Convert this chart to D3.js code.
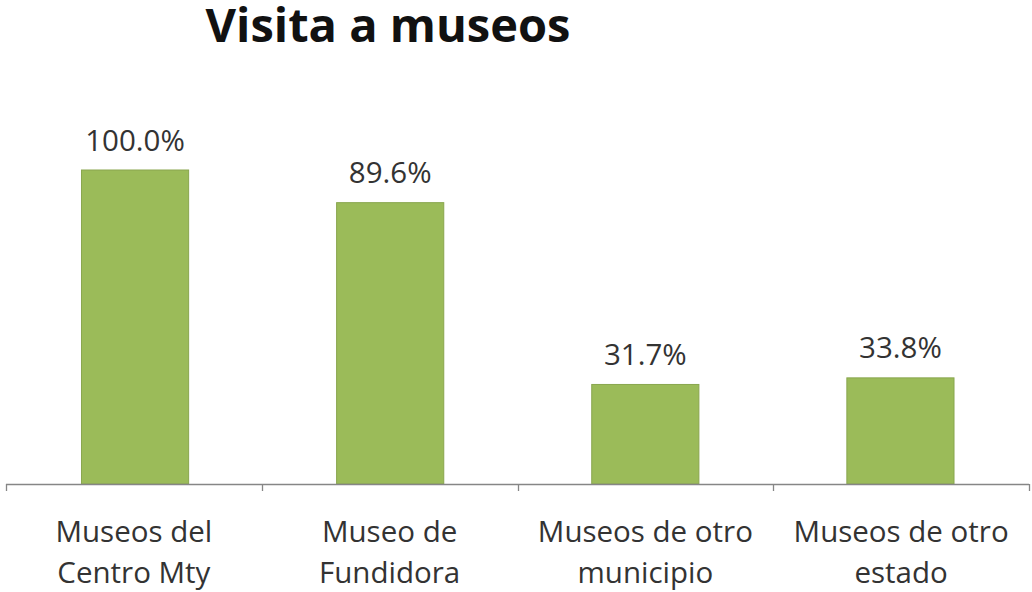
<!DOCTYPE html>
<html>
<head>
<meta charset="utf-8">
<script src="https://cdn.jsdelivr.net/npm/d3@7"></script>
<style>
  html, body { margin: 0; padding: 0; background: #ffffff; }
  svg { display: block; }
</style>
</head>
<body>
<svg id="chart" width="1032" height="592"></svg>
<script>
// Share of visitors by museum type (percent)
const categories = [
  ["Museos del", "Centro Mty"],
  ["Museo de", "Fundidora"],
  ["Museos de otro", "municipio"],
  ["Museos de otro", "estado"]
];
const values = [100.0, 89.6, 31.7, 33.8];
const valueLabels = ["100.0%", "89.6%", "31.7%", "33.8%"];
const title = "Visita a museos";

const svg = d3.select("#chart");
const font = "'Open Sans', 'Noto Sans', sans-serif";

const keys = categories.map((c, i) => i);

// Bar positions: four equal bands along the category axis
const x = d3.scaleBand()
  .domain(keys)
  .range([7.5, 1028])
  .paddingInner(0.58)
  .paddingOuter(0.29);

// Band boundaries for the tick marks and label centres
const xEdges = d3.scaleBand().domain(keys).range([6, 1029]).padding(0);

const y = d3.scaleLinear()
  .domain([0, 120])
  .range([484, 107.2]);

// Title
svg.append("text")
  .attr("x", 388)
  .attr("y", 42)
  .attr("text-anchor", "middle")
  .attr("font-family", font)
  .attr("font-weight", 700)
  .attr("font-size", 47)
  .attr("fill", "#111111")
  .text(title);

// Bars
svg.append("g")
  .selectAll("rect")
  .data(values)
  .join("rect")
  .attr("x", (d, i) => x(i))
  .attr("y", d => y(d))
  .attr("width", x.bandwidth())
  .attr("height", d => y(0) - y(d))
  .attr("fill", "#9BBB59")
  .attr("stroke", "#89A64E")
  .attr("stroke-width", 1);

// Value labels above bars
svg.append("g")
  .selectAll("text")
  .data(values)
  .join("text")
  .attr("x", (d, i) => x(i) + x.bandwidth() / 2)
  .attr("y", d => y(d) - 19.5)
  .attr("text-anchor", "middle")
  .attr("font-family", font)
  .attr("font-size", 29.5)
  .attr("fill", "#333333")
  .text((d, i) => valueLabels[i]);

// Category axis line with boundary ticks
const axis = svg.append("g").attr("transform", `translate(0,${y(0)})`);
axis.append("line")
  .attr("x1", 6).attr("x2", 1029)
  .attr("y1", 0.5).attr("y2", 0.5)
  .attr("stroke", "#868686")
  .attr("stroke-width", 1.3);

const edges = keys.map(k => xEdges(k)).concat([xEdges.range()[1]]);
axis.selectAll("line.tick")
  .data(edges)
  .join("line")
  .attr("class", "tick")
  .attr("x1", d => Math.round(d) + 0.5)
  .attr("x2", d => Math.round(d) + 0.5)
  .attr("y1", 0)
  .attr("y2", 7)
  .attr("stroke", "#868686")
  .attr("stroke-width", 1.3);

// Two-line category labels
const labels = axis.selectAll("text.cat")
  .data(categories)
  .join("text")
  .attr("class", "cat")
  .attr("text-anchor", "middle")
  .attr("font-family", font)
  .attr("font-size", 29.5)
  .attr("fill", "#333333");

labels.selectAll("tspan")
  .data((d, i) => d.map(line => ({ line, i })))
  .join("tspan")
  .attr("x", d => xEdges(d.i) + xEdges.bandwidth() / 2)
  .attr("y", (d, j) => 58 + j * 41)
  .text(d => d.line);
</script>
</body>
</html>
